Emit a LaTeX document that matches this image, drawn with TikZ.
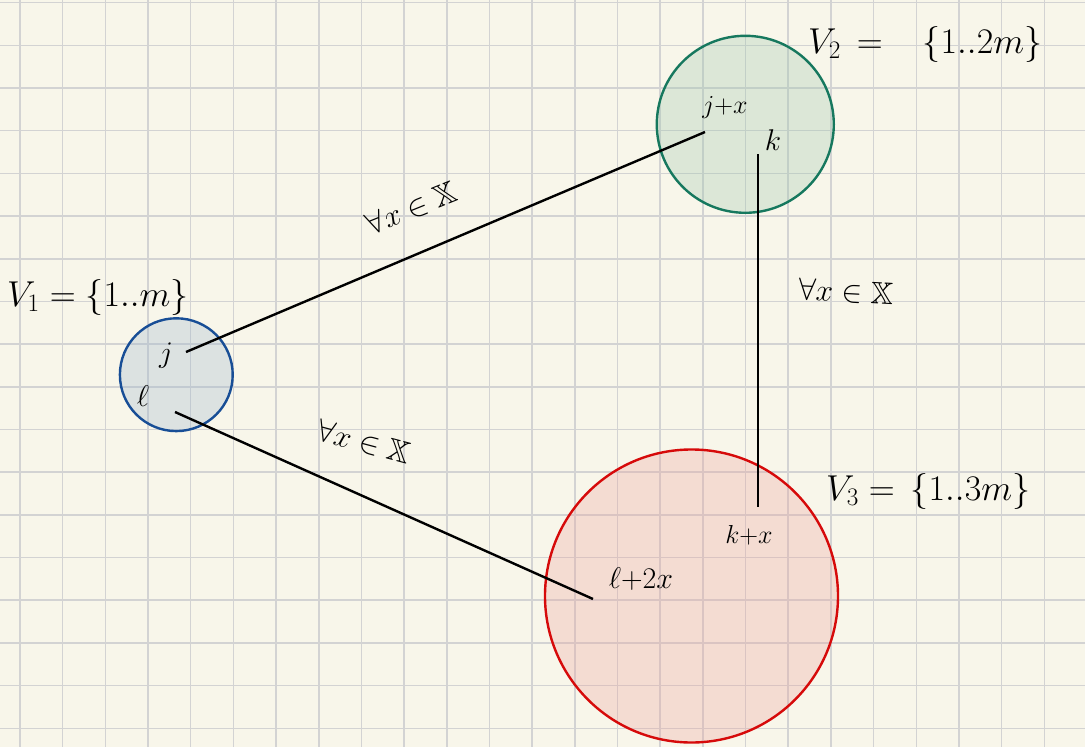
\RequirePackage{fix-cm}
\documentclass[tikz,border=0pt]{standalone}
\usepackage{amssymb}
\DeclareFontFamily{U}{msb}{}
\DeclareFontShape{U}{msb}{m}{n}{<->msbm10}{}
\definecolor{bgpaper}{RGB}{248,246,234}
\definecolor{gridgray}{RGB}{211,211,211}
\definecolor{blueline}{RGB}{24,78,150}
\definecolor{bluefill}{RGB}{158,183,207}
\definecolor{greenline}{RGB}{22,120,94}
\definecolor{greenfill}{RGB}{158,199,174}
\definecolor{redline}{RGB}{214,10,10}
\definecolor{redfill}{RGB}{235,163,157}
\tikzset{
  gridline/.style={draw=gridgray, line width=1.5pt},
  setcircle/.style={circle, inner sep=0pt, outer sep=0pt, line width=2.4pt, fill opacity=0.3, draw opacity=1},
  edge/.style={draw=black, line width=2.4pt},
  innerlbl/.style={font=\fontsize{30}{34}\selectfont, inner sep=1pt},
  pluslbl/.style={font=\fontsize{26}{30}\selectfont, inner sep=1pt},
  quant/.style={font=\fontsize{31}{36}\selectfont, inner sep=1pt},
  setlabel/.style={font=\fontsize{36}{42}\selectfont, anchor=base west, inner sep=0pt}
}
\begin{document}
\begin{tikzpicture}[x=1pt,y=-1pt]
\fill[bgpaper] (0,0) rectangle (1085,747);
\useasboundingbox (0,0) rectangle (1085,747);
\foreach \i in {0,...,25} \draw[gridline] ({20+42.68*\i},0) -- ++(0,747);
\foreach \i in {0,...,17} \draw[gridline] (0,{2.7+42.68*\i}) -- ++(1085,0);

\node[setcircle, draw=blueline, fill=bluefill, minimum size=112.8pt] (C1) at (176.3,374.7) {};
\node[setcircle, draw=greenline, fill=greenfill, minimum size=177pt] (C2) at (745.3,124.3) {};
\node[setcircle, draw=redline, fill=redfill, minimum size=293pt] (C3) at (691.5,596) {};

\coordinate (j) at (186,352);
\coordinate (jx) at (705,132);
\coordinate (l) at (175,412);
\coordinate (l2x) at (593,599);
\coordinate (k) at (758,154);
\coordinate (kx) at (758,507);

\draw[edge] (j) -- (jx);
\draw[edge] (l) -- (l2x);
\draw[edge] (k) -- (kx);

\node[innerlbl] (tj) at (166,356) {$j$};
\node[innerlbl] (tl) at (143,396) {$\ell$};
\node[pluslbl] (tjx) at (725,108) {$j{+}x$};
\node[innerlbl] (tk) at (773,140) {$k$};
\node[pluslbl] (tkx) at (749,535) {$k{+}x$};
\node[innerlbl] (tl2x) at (641,579) {$\ell{+}2x$};

\node[quant, rotate=22] (q1) at (412,208) {$\forall x\in\mathbb{X}$};
\node[quant, rotate=-3] (q2) at (846,292) {$\forall x\in\mathbb{X}$};
\node[quant, rotate=-15] (q3) at (364,442) {$\forall x\in\mathbb{X}$};

\node[setlabel] (V1) at (7,306) {$V_1=\{1..m\}$};
\node[setlabel] (V2) at (808,53) {$V_2\,=\;\;\;\{1..2m\}$};
\node[setlabel] (V3) at (826,500) {$V_3=\,\{1..3m\}$};
\end{tikzpicture}
\end{document}
